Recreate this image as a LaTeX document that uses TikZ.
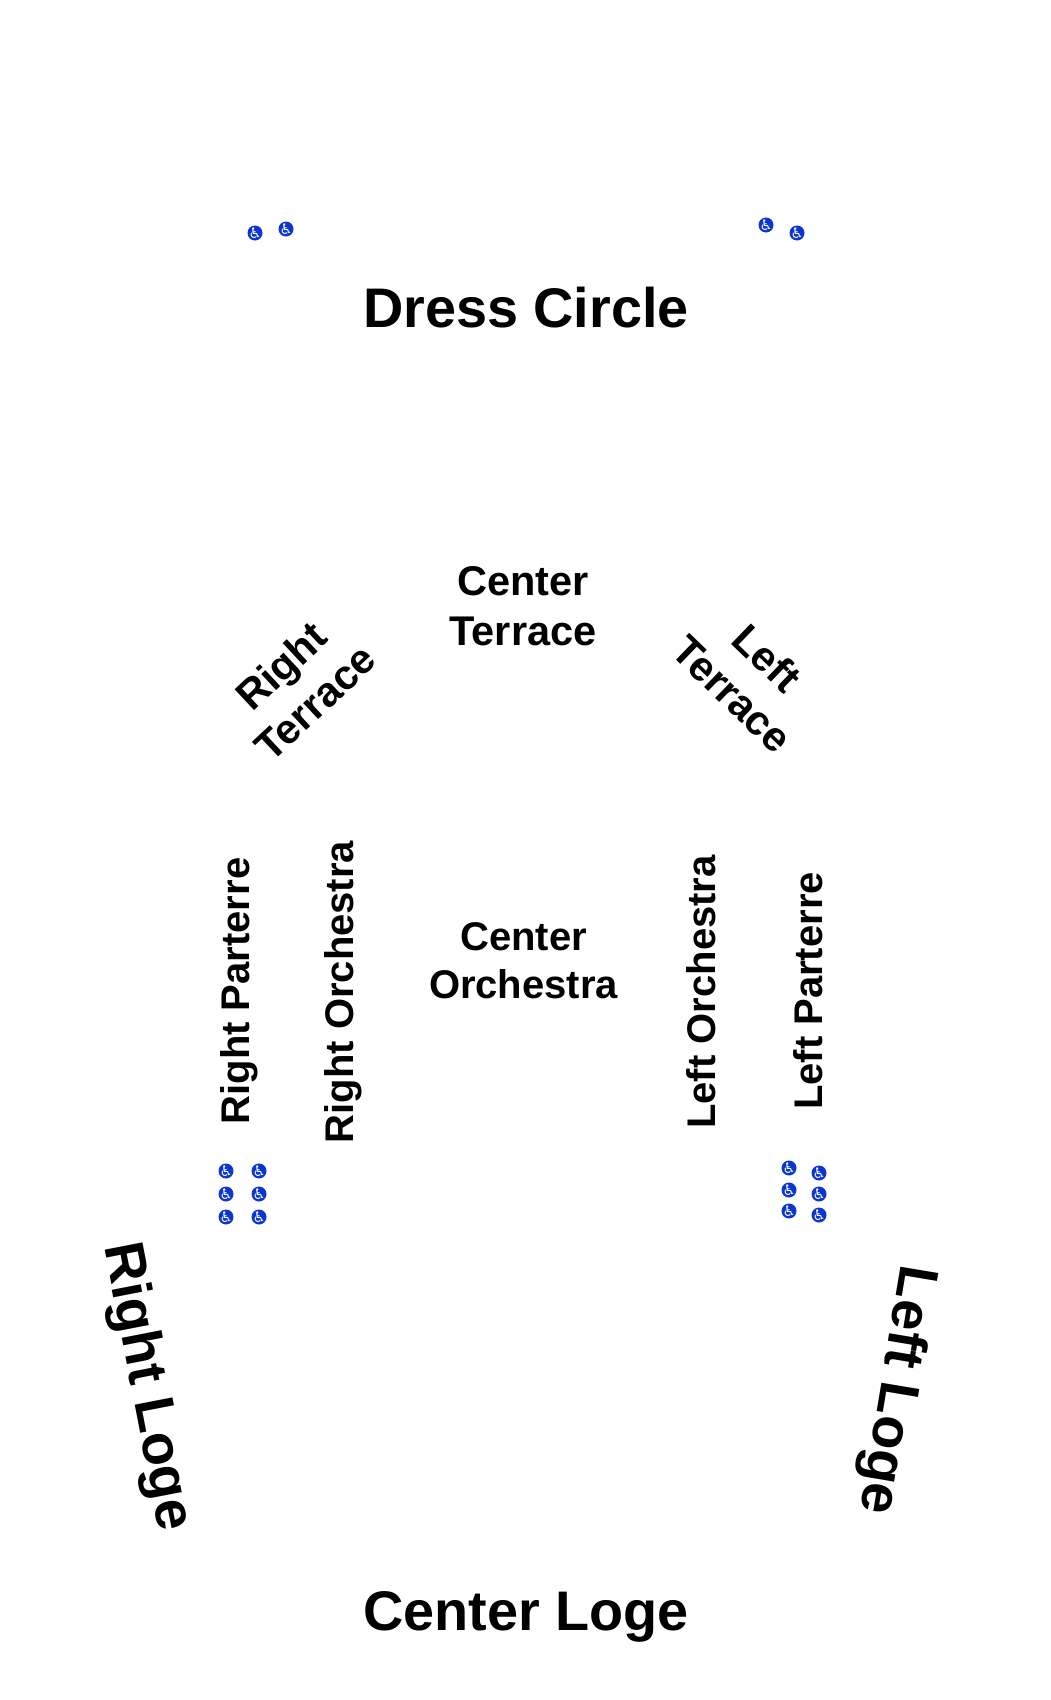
\documentclass[tikz,border=0pt]{standalone}
\usepackage{fontspec}
\setmainfont{Liberation Sans}
\newfontfamily\symfont{DejaVu Sans}
\definecolor{accessblue}{RGB}{12,54,212}
\tikzset{
  access/.style={circle,fill=accessblue,text=white,inner sep=-4pt,minimum size=15pt,
                 font=\symfont\fontsize{14.5}{14.5}\selectfont},
  bigsec/.style={font=\bfseries\fontsize{55.8}{60}\selectfont},
  midsec/.style={font=\bfseries\fontsize{40}{48}\selectfont,align=center},
  tersec/.style={font=\bfseries\fontsize{41.5}{50}\selectfont,align=center}
}
\begin{document}
\begin{tikzpicture}[x=1pt,y=-1pt]
  \useasboundingbox (0,0) rectangle (1050,1700);
  % section names
  \node[bigsec] (DC) at (526,308)  {Dress Circle};
  \node[bigsec] (CL) at (526,1617) {Center Loge};
  \node[bigsec,rotate=-79]   (RL) at (146,1387) {Right Loge};
  \node[bigsec,rotate=-99.5] (LL) at (895,1390) {Left Loge};
  \node[tersec] (CT) at (523,606)   {Center\\Terrace};
  \node[midsec] (CO) at (523.5,961) {Center\\Orchestra};
  \node[tersec,rotate=43]  (RT) at (298,684) {Right\\Terrace};
  \node[tersec,rotate=-44] (LT) at (750,676) {Left\\Terrace};
  \node[midsec,rotate=90] (RP) at (239,991) {Right Parterre};
  \node[midsec,rotate=90] (RO) at (343,992) {Right Orchestra};
  \node[midsec,rotate=90] (LO) at (701,992) {Left Orchestra};
  \node[midsec,rotate=90] (LP) at (808,991) {Left Parterre};
  % wheelchair places
  \node[access] (A1)  at (255,233)  {♿};
  \node[access] (A2)  at (286,229)  {♿};
  \node[access] (A3)  at (766,225)  {♿};
  \node[access] (A4)  at (797,233)  {♿};
  \node[access] (B1)  at (226,1171) {♿};
  \node[access] (B2)  at (259,1171) {♿};
  \node[access] (B3)  at (226,1194) {♿};
  \node[access] (B4)  at (259,1194) {♿};
  \node[access] (B5)  at (226,1217) {♿};
  \node[access] (B6)  at (259,1217) {♿};
  \node[access] (C1)  at (789,1168) {♿};
  \node[access] (C2)  at (819,1173) {♿};
  \node[access] (C3)  at (789,1190) {♿};
  \node[access] (C4)  at (819,1194) {♿};
  \node[access] (C5)  at (789,1211) {♿};
  \node[access] (C6)  at (819,1215) {♿};
\end{tikzpicture}
\end{document}
